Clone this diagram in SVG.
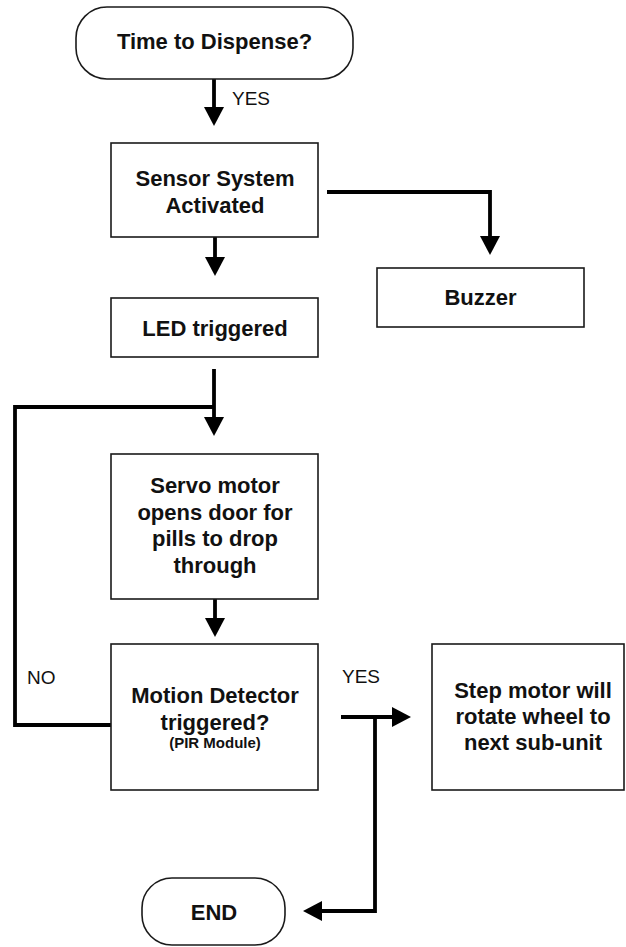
<svg xmlns="http://www.w3.org/2000/svg" width="626" height="947" viewBox="0 0 626 947">
  <defs>
    <style>
      .box { fill: #ffffff; stroke: #1a1a1a; stroke-width: 1.6; }
      .term { fill: #ffffff; stroke: #1a1a1a; stroke-width: 1.6; }
      .t { font-family: "Liberation Sans", Arial, Helvetica, sans-serif; font-size: 22px; font-weight: bold; fill: #111111; text-anchor: middle; }
      .small { font-family: "Liberation Sans", Arial, Helvetica, sans-serif; font-size: 15px; font-weight: bold; fill: #111111; text-anchor: middle; }
      .lbl { font-family: "Liberation Sans", Arial, Helvetica, sans-serif; font-size: 19px; fill: #111111; }
      .wire { fill: none; stroke: #000000; stroke-width: 3.8; stroke-linejoin: miter; stroke-linecap: butt; }
      .arrow { marker-end: url(#head); }
    </style>
    <marker id="head" markerUnits="userSpaceOnUse" markerWidth="21" markerHeight="21" refX="1" refY="10" orient="auto">
      <path d="M0,0 L19,10 L0,20 Z" fill="#000000"/>
    </marker>
  </defs>

  <rect width="626" height="947" fill="#ffffff"/>

  <!-- connectors -->
  <g id="connectors">
    <path class="wire arrow" d="M214,79 V108"/>
    <path class="wire arrow" d="M215,237 V258"/>
    <path class="wire arrow" d="M327,192 H490 V237"/>
    <path class="wire arrow" d="M214,369 V418"/>
    <path class="wire" d="M111,725 H15 V407 H214"/>
    <path class="wire arrow" d="M215,599 V619"/>
    <path class="wire arrow" d="M341,717 H393"/>
    <path class="wire arrow" d="M375,717 V911 H321"/>
    <text class="lbl" x="232" y="105">YES</text>
    <text class="lbl" x="27" y="684">NO</text>
    <text class="lbl" x="342" y="683">YES</text>
  </g>

  <!-- start terminal -->
  <g id="start">
    <rect class="term" x="76" y="7" width="277" height="72" rx="31" ry="31"/>
    <text class="t" x="214.5" y="49">Time to Dispense?</text>
  </g>

  <g id="sensor">
    <rect class="box" x="111" y="143" width="207" height="94"/>
    <text class="t" x="215" y="186">Sensor System</text>
    <text class="t" x="215" y="213">Activated</text>
  </g>

  <g id="buzzer">
    <rect class="box" x="377" y="268" width="207" height="59"/>
    <text class="t" x="480.5" y="305">Buzzer</text>
  </g>

  <g id="led">
    <rect class="box" x="111" y="298" width="207" height="59"/>
    <text class="t" x="215" y="336">LED triggered</text>
  </g>

  <g id="servo">
    <rect class="box" x="111" y="454" width="207" height="145"/>
    <text class="t" x="215" y="493">Servo motor</text>
    <text class="t" x="215" y="519.5">opens door for</text>
    <text class="t" x="215" y="546">pills to drop</text>
    <text class="t" x="215" y="572.5">through</text>
  </g>

  <g id="motion">
    <rect class="box" x="111" y="644" width="207" height="146"/>
    <text class="t" x="215" y="703">Motion Detector</text>
    <text class="t" x="215" y="730">triggered?</text>
    <text class="small" x="215" y="748">(PIR Module)</text>
  </g>

  <g id="stepper">
    <rect class="box" x="432" y="644" width="192" height="146"/>
    <text class="t" x="533" y="698">Step motor will</text>
    <text class="t" x="533" y="724">rotate wheel to</text>
    <text class="t" x="533" y="750">next sub-unit</text>
  </g>

  <!-- end terminal -->
  <g id="end">
    <rect class="term" x="142" y="878" width="143" height="67" rx="30" ry="30"/>
    <text class="t" x="214" y="920">END</text>
  </g>
</svg>
